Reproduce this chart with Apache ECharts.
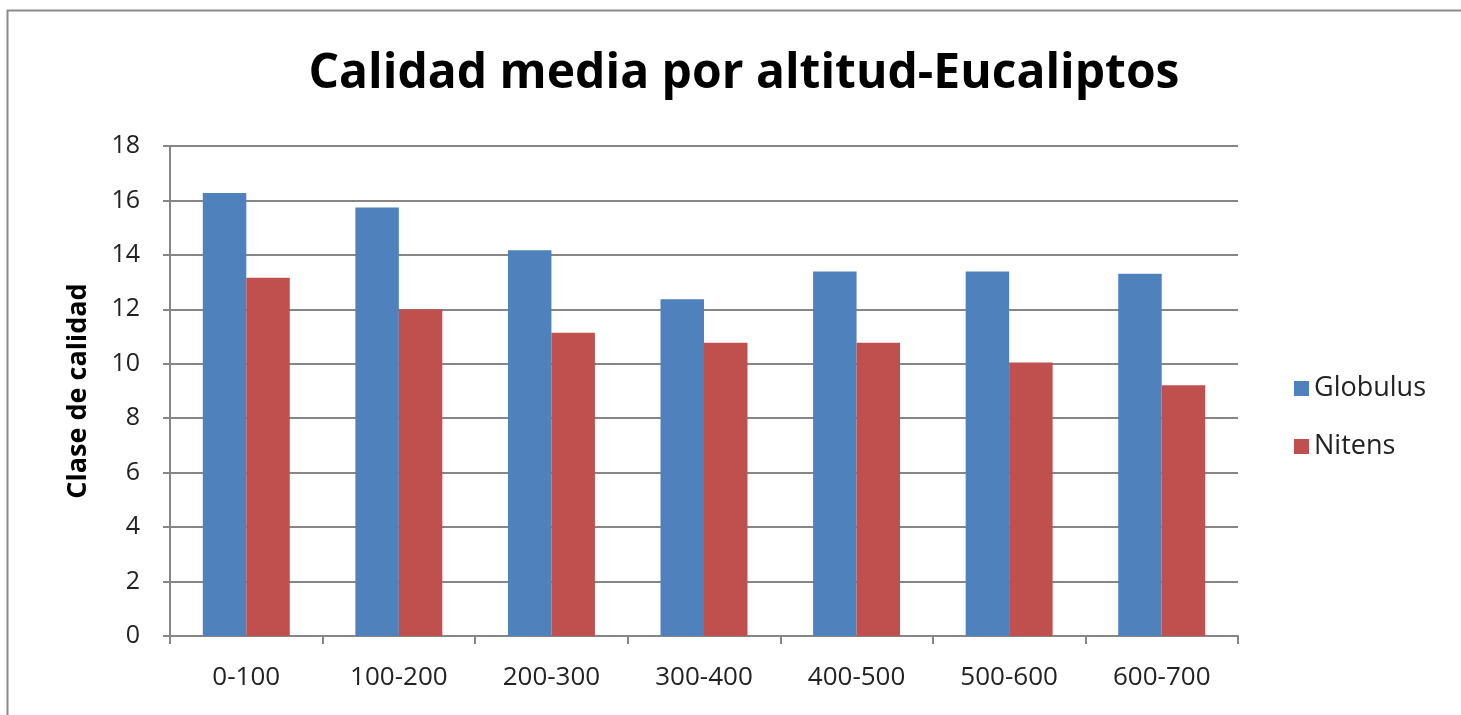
<!DOCTYPE html>
<html><head><meta charset="utf-8">
<script src="https://cdn.jsdelivr.net/npm/echarts@6/dist/echarts.min.js"></script>
<style>html,body{margin:0;padding:0;background:#fff}#c{width:1461px;height:715px}</style>
</head><body><div id="c"></div>
<script>
const categories = ['0-100','100-200','200-300','300-400','400-500','500-600','600-700'];
const globulus = [16.27, 15.74, 14.17, 12.37, 13.39, 13.39, 13.31];
const nitens = [13.16, 12.0, 11.14, 10.77, 10.77, 10.05, 9.21];
const yTicks = [0,2,4,6,8,10,12,14,16,18];

const chart = echarts.init(document.getElementById('c'));
const font = 'Open Sans, Liberation Sans, sans-serif';
chart.setOption({
  animation: false,
  backgroundColor: '#fff',
  graphic: [{type:'rect', shape:{x:7.5,y:10.5,width:1460,height:720}, style:{fill:'none', stroke:'#8a8a8a', lineWidth:2}, silent:true}],
  title: {text:'Calidad media por altitud-Eucaliptos', left:739, textAlign:'center', top:45,
    textStyle:{fontFamily:font, fontWeight:'bold', fontSize:48, color:'#000'}},
  legend: {orient:'vertical', left:1289, top:370, itemGap:31, itemWidth:15, itemHeight:15, icon:'rect',
    textStyle:{fontFamily:font, fontSize:27, color:'#222'}, data:['Globulus','Nitens']},
  grid: {left:170, right:223, top:146, bottom:79, containLabel:false},
  xAxis: {type:'category', data:categories,
    axisLine:{lineStyle:{color:'#868686', width:2}},
    axisTick:{show:true, length:8, lineStyle:{color:'#868686', width:2}},
    axisLabel:{fontFamily:font, fontSize:26, color:'#222', margin:29}},
  yAxis: {type:'value', min:0, max:18, interval:2,
    name:'Clase de calidad', nameLocation:'middle', nameGap:78, nameRotate:90,
    nameTextStyle:{fontFamily:font, fontWeight:'bold', fontSize:27, color:'#000'},
    axisLine:{show:true, lineStyle:{color:'#868686', width:2}},
    axisTick:{show:true, length:7, lineStyle:{color:'#868686', width:2}},
    axisLabel:{fontFamily:font, fontSize:25, color:'#222', margin:30,
      formatter: v => yTicks.includes(v) ? String(v) : ''},
    splitLine:{lineStyle:{color:'#868686', width:2}}},
  series: [
    {name:'Globulus', type:'bar', data:globulus, barGap:'0%', barCategoryGap:'43%', itemStyle:{color:'#4F81BD'}},
    {name:'Nitens', type:'bar', data:nitens, itemStyle:{color:'#C0504D'}}
  ]
});
</script></body></html>
